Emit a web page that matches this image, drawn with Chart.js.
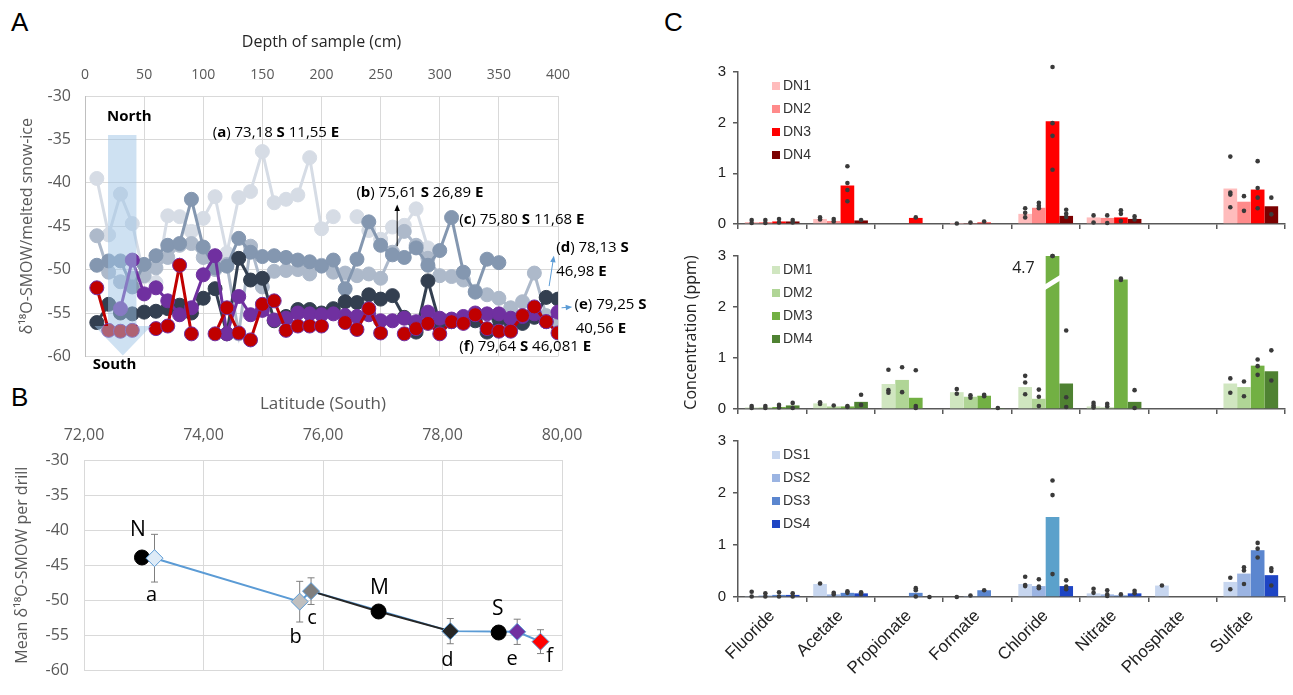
<!DOCTYPE html>
<html>
<head>
<meta charset="utf-8">
<script src="https://cdn.jsdelivr.net/npm/chart.js@4.4.1/dist/chart.umd.min.js"></script>
<style>
  body { margin: 0; background: #fff; width: 1293px; height: 695px; position: relative; overflow: hidden; }
  .box { position: absolute; }
  .letter { position: absolute; font-family: "Liberation Sans", Arial, sans-serif; font-size: 26px; color: #000; line-height: 26px; }
</style>
</head>
<body>
<div class="letter" style="left:11px;top:9px">A</div>
<div class="letter" style="left:11px;top:384px">B</div>
<div class="letter" style="left:664px;top:9px">C</div>

<div class="box" style="left:0;top:0;width:660px;height:380px"><canvas id="chartA"></canvas></div>
<div class="box" style="left:0;top:380px;width:640px;height:315px"><canvas id="chartB"></canvas></div>
<div class="box" style="left:660px;top:55px;width:633px;height:185px"><canvas id="chartDN"></canvas></div>
<div class="box" style="left:660px;top:240px;width:633px;height:185px"><canvas id="chartDM"></canvas></div>
<div class="box" style="left:660px;top:425px;width:633px;height:270px"><canvas id="chartDS"></canvas></div>

<script>
const fontUI = '"Open Sans", sans-serif';
const fontArial = '"Liberation Sans", Arial, sans-serif';

// ---- panel A: d18O profiles per drill, every 10 cm
const depth = [10,20,30,40,50,60,70,80,90,100,110,120,130,140,150,160,170,180,190,200,
               210,220,230,240,250,260,270,280,290,300,310,320,330,340,350,360,370,380,390,400];
const drillA = [-39.5,-46.0,-41.3,-44.7,-50.8,-51.5,-43.8,-43.9,-45.6,-44.1,-41.6,-48.1,-41.7,-41.0,-36.4,-42.3,-41.9,-41.4,-37.1,-45.3,
                -43.9,null,-43.9,-45.5,-46.5,-45.1,-44.9,-43.0,-47.5,null,null,null,null,null,null,null,null,null,null,null];
const drillB = [-46.1,-50.3,-51.4,-51.0,-50.7,-49.8,-48.6,-47.2,-47.0,-48.6,-50.0,-49.4,-57.4,-47.3,-52.0,-50.2,-50.1,-50.0,-50.5,-49.5,
                -50.3,-50.4,-50.7,-50.5,-51.0,-48.0,-45.6,-47.2,-48.7,-50.7,-50.8,-51.2,-52.5,-52.9,-53.3,-54.4,-53.7,-50.4,-55.3,-56.0];
const drillC = [-49.5,-49.0,-49.0,-52.0,-49.4,-48.4,-47.2,-47.0,-41.9,-47.4,-49.8,-49.6,-46.4,-48.0,-48.5,-48.4,-48.6,-48.9,-49.1,-49.6,
                -48.9,-52.2,-48.8,-44.5,-47.2,-48.3,-48.6,-47.5,-49.5,-47.8,-44.0,-50.3,-52.6,-48.8,-49.2,null,null,null,null,null];
const drillD = [-56.1,-54.0,-55.0,-55.1,-54.9,-54.8,-54.5,-54.1,-55.0,-53.3,-52.2,-57.4,-48.7,-51.2,-51.0,-55.9,-55.4,-54.6,-54.6,-55.0,
                -54.5,-53.7,-53.8,-52.9,-53.4,-53.0,-55.5,-57.2,-51.3,-56.2,-56.0,-55.8,-55.9,-57.2,-55.7,-56.1,-56.2,-55.5,-53.2,-53.4];
const drillE = [null,null,-54.5,-48.9,-52.8,-52.1,-53.6,-55.2,-54.4,-50.6,-48.4,-57.4,-53.1,-55.2,-54.7,-55.8,-55.6,-55.0,-55.1,-55.2,
                -55.1,-55.3,-55.4,-55.2,-55.9,-55.9,-55.6,-56.0,-54.9,-55.6,-55.7,-55.4,-55.0,-55.1,-55.1,-55.6,-55.4,-55.1,-56.0,-54.9];
const drillF = [-52.1,-57.0,-57.1,-57.0,null,-56.8,-56.5,-49.5,-57.4,null,-57.4,-54.4,-57.3,-58.1,-54.0,-53.6,-57.0,-56.5,-56.5,-56.5,
                null,-56.1,-56.9,-54.5,-57.3,null,-57.4,-56.8,-56.2,-57.4,-56.0,-56.2,-55.2,-56.8,-57.1,-57.1,-55.3,-54.3,-56.0,-57.3];

// ---- panel B: mean per drill against latitude
const drillNames = ['a','b','c','d','e','f'];
const drillLat = [73.18, 75.61, 75.80, 78.13, 79.25, 79.64];
const drillMean = [-44.0, -50.2, -48.7, -54.4, -54.5, -55.9];
const drillErr = [3.4, 2.9, 1.9, 1.8, 1.8, 1.7];
const zoneNames = ['N','M','S'];
const zoneLat = [72.97, 76.93, 78.94];
const zoneMean = [-43.9, -51.6, -54.6];

// ---- panel C: ion concentrations (ppm), bar = mean, dots = replicates
const ions = ['Fluoride','Acetate','Propionate','Formate','Chloride','Nitrate','Phosphate','Sulfate'];
const dn1 = [0.04,0.10,0,0.005,0.20,0.13,0,0.70];
const dn2 = [0.04,0.06,0,0.01,0.32,0.12,0,0.44];
const dn3 = [0.05,0.76,0.12,0.03,2.03,0.13,0,0.68];
const dn4 = [0.05,0.07,0,0,0.16,0.10,0,0.35];
const dn1Reps = [[0.08,0.02],[0.13,0.09],[],[0.01],[0.31,0.22,0.13],[0.17,0.03],[],[1.33,0.62,0.58,0.33]];
const dn2Reps = [[0.08,0.02],[0.10,0.05],[],[0.03],[0.42,0.36,0.31],[0.17,0.02],[],[0.55,0.26]];
const dn3Reps = [[0.10,0.03],[1.14,0.81,0.67,0.45],[0.13],[0.05],[3.10,1.99,1.74,1.07],[0.27,0.20,0.06],[],[1.24,0.71,0.52,0.31]];
const dn4Reps = [[0.08,0.03],[0.08],[],[],[0.28,0.20,0.14],[0.15,0.09],[],[0.52,0.19]];

const dm1 = [0.03,0.11,0.49,0.33,0.43,0.05,0,0.50];
const dm2 = [0.03,0.05,0.57,0.24,0.20,0.03,0,0.43];
const dm3 = [0.04,0.05,0.22,0.26,4.7,2.54,0,0.85];
const dm4 = [0.07,0.14,0,0.02,0.50,0.14,0,0.74];
const dm1Reps = [[0.06,0.02],[0.13,0.10],[0.77,0.37,0.32],[0.39,0.30],[0.65,0.52,0.29],[0.12,0.07,0.03],[],[0.60,0.32]];
const dm2Reps = [[0.06,0.02],[0.07],[0.82,0.33],[0.27,0.22],[0.38,0.24,0.06],[0.10,0.05],[],[0.54,0.25]];
const dm3Reps = [[0.08,0.03],[0.06,0.04],[0.76,0.06,0.02],[0.28,0.25],[4.8,4.6],[2.56,2.53],[],[0.97,0.84,0.67]];
const dm4Reps = [[0.12,0.02],[0.28,0.08],[],[0.02],[1.54,0.23,0.04],[0.37,0.02],[],[1.15,0.56]];

const ds1 = [0.02,0.25,0,0,0.25,0.07,0.22,0.29];
const ds2 = [0.03,0.05,0,0.02,0.21,0.05,0,0.45];
const ds3 = [0.04,0.08,0.08,0.13,1.54,0.03,0,0.90];
const ds4 = [0.04,0.07,0,0,0.21,0.07,0,0.42];
const ds1Reps = [[0.10,0.01],[0.26],[],[0.0],[0.39,0.23,0.21],[0.16,0.08],[0.22],[0.37,0.15]];
const ds2Reps = [[0.07,0.01],[0.08,0.05],[],[0.03],[0.34,0.20,0.17],[0.13,0.05,0.02],[],[0.57,0.51,0.25]];
const ds3Reps = [[0.09,0.01],[0.11,0.08],[0.17,0.13,0.01],[0.13],[2.24,1.96,0.44],[0.05],[],[1.04,0.93,0.76]];
const ds4Reps = [[0.07,0.01],[0.09,0.06],[0.0],[],[0.32,0.20,0.15],[0.12,0.07],[],[0.55,0.50,0.22]];

// ---------- helpers
function richText(ctx, x, y, parts, size) {
  let cx = x;
  parts.forEach(([t, bold]) => {
    ctx.font = (bold ? 'bold ' : '') + size + 'px ' + fontUI;
    ctx.fillText(t, cx, y);
    cx += ctx.measureText(t).width;
  });
}
function arrow(ctx, x1, y1, x2, y2, color) {
  const a = Math.atan2(y2 - y1, x2 - x1), h = 7;
  ctx.strokeStyle = color; ctx.fillStyle = color; ctx.lineWidth = 1;
  ctx.beginPath(); ctx.moveTo(x1, y1); ctx.lineTo(x2 - Math.cos(a) * h * 0.8, y2 - Math.sin(a) * h * 0.8); ctx.stroke();
  ctx.beginPath();
  ctx.moveTo(x2, y2);
  ctx.lineTo(x2 - h * Math.cos(a - 0.4), y2 - h * Math.sin(a - 0.4));
  ctx.lineTo(x2 - h * Math.cos(a + 0.4), y2 - h * Math.sin(a + 0.4));
  ctx.closePath(); ctx.fill();
}
const S = t => [t, 0], Bd = t => [t, 1];

// ---------- panel A
const panelAExtras = {
  id: 'panelAExtras',
  afterDatasetsDraw(chart) {
    const {ctx, scales: {x, y}} = chart;
    const X = v => x.getPixelForValue(v), Y = v => y.getPixelForValue(v);
    ctx.save();
    // translucent north -> south arrow over the profiles
    ctx.fillStyle = 'rgba(157,195,230,0.5)';
    ctx.beginPath();
    ctx.moveTo(X(19.5), Y(-34.5)); ctx.lineTo(X(43.5), Y(-34.5));
    ctx.lineTo(X(43.5), Y(-56.5)); ctx.lineTo(X(56), Y(-56.5));
    ctx.lineTo(X(32), Y(-59.9)); ctx.lineTo(X(8), Y(-56.5));
    ctx.lineTo(X(19.5), Y(-56.5)); ctx.closePath(); ctx.fill();

    ctx.fillStyle = '#000'; ctx.textBaseline = 'middle';
    ctx.textAlign = 'center';
    ctx.font = 'bold 15px ' + fontUI;
    ctx.fillText('North', X(37.5), Y(-32.4));
    ctx.fillText('South', X(25), Y(-61.0));
    ctx.textAlign = 'left';
    const sz = 15;
    richText(ctx, X(108), Y(-34.2), [S('('), Bd('a'), S(') 73,18 '), Bd('S'), S(' 11,55 '), Bd('E')], sz);
    richText(ctx, X(229.5), Y(-41.2), [S('('), Bd('b'), S(') 75,61 '), Bd('S'), S(' 26,89 '), Bd('E')], sz);
    richText(ctx, X(316.5), Y(-44.2), [S('('), Bd('c'), S(') 75,80 '), Bd('S'), S(' 11,68 '), Bd('E')], sz);
    richText(ctx, X(398.5), Y(-47.5), [S('('), Bd('d'), S(') 78,13 '), Bd('S')], sz);
    richText(ctx, X(398.5), Y(-50.2), [S('46,98 '), Bd('E')], sz);
    richText(ctx, X(414), Y(-54.1), [S('('), Bd('e'), S(') 79,25 '), Bd('S')], sz);
    richText(ctx, X(415), Y(-56.8), [S('40,56 '), Bd('E')], sz);
    richText(ctx, X(316.5), Y(-58.9), [S('('), Bd('f'), S(') 79,64 '), Bd('S'), S(' 46,081 '), Bd('E')], sz);

    arrow(ctx, X(264), Y(-47.3), X(264), Y(-42.5), '#000');
    arrow(ctx, X(392.5), Y(-51.9), X(396.5), Y(-48.4), '#5b9bd5');
    arrow(ctx, X(403), Y(-54.4), X(412), Y(-54.3), '#5b9bd5');
    ctx.restore();
  }
};

const profiles = [
  {label: 'a', data: drillA, color: '#d6dce5', border: '#d6dce5'},
  {label: 'b', data: drillB, color: '#adb9ca', border: '#adb9ca'},
  {label: 'c', data: drillC, color: '#8497b0', border: '#8497b0'},
  {label: 'd', data: drillD, color: '#333f50', border: '#333f50'},
  {label: 'e', data: drillE, color: '#7030a0', border: '#7030a0'},
  {label: 'f', data: drillF, color: '#c00000', border: '#7030a0'}
];

new Chart(document.getElementById('chartA'), {
  type: 'line',
  data: {
    datasets: profiles.map((p, i) => ({
      label: p.label,
      data: depth.map((d, k) => ({x: d, y: p.data[k]})),
      borderColor: p.color,
      backgroundColor: p.color,
      borderWidth: 3,
      pointRadius: 7,
      pointBackgroundColor: p.color,
      pointBorderColor: p.border,
      pointBorderWidth: 1,
      spanGaps: false,
      order: profiles.length - i
    }))
  },
  options: {
    responsive: true, maintainAspectRatio: false, animation: false,
    layout: {padding: {left: 0, top: 0, right: 102, bottom: 17}},
    plugins: {legend: {display: false}, tooltip: {enabled: false}},
    scales: {
      x: {
        type: 'linear', position: 'top', min: 0, max: 400,
        ticks: {stepSize: 50, color: '#595959', font: {family: fontUI, size: 14}, padding: 13},
        grid: {color: '#d9d9d9', drawTicks: false},
        border: {display: false},
        title: {display: true, text: 'Depth of sample (cm)', color: '#262626',
                font: {family: fontUI, size: 16}, padding: {top: 33, bottom: 0}},
        afterFit: s => { s.height = 96; }
      },
      y: {
        min: -60, max: -30,
        ticks: {stepSize: 5, color: '#595959', font: {family: fontUI, size: 16}, padding: 14},
        grid: {color: '#d9d9d9', drawTicks: false},
        border: {color: '#bfbfbf'},
        title: {display: true, text: 'δ¹⁸O-SMOW/melted snow-ice', color: '#595959',
                font: {family: fontUI, size: 16}, padding: {top: 18, bottom: 0}},
        afterFit: s => { s.width = 85; }
      }
    }
  },
  plugins: [panelAExtras]
});

// ---------- panel B
const drillFill = ['#deebf7', '#bfbfbf', '#7f7f7f', '#262626', '#7030a0', '#ff0000'];
const drillPts = drillLat.map((x, i) => ({x, y: drillMean[i]}));
const zonePts = zoneLat.map((x, i) => ({x, y: zoneMean[i]}));

const panelBExtras = {
  id: 'panelBExtras',
  beforeDatasetsDraw(chart) {
    const {ctx, scales: {x, y}} = chart;
    ctx.save();
    ctx.strokeStyle = '#7f7f7f'; ctx.lineWidth = 1;
    drillLat.forEach((lat, i) => {
      const px = x.getPixelForValue(lat);
      const top = y.getPixelForValue(drillMean[i] + drillErr[i]);
      const bot = y.getPixelForValue(drillMean[i] - drillErr[i]);
      ctx.beginPath();
      ctx.moveTo(px, top); ctx.lineTo(px, bot);
      ctx.moveTo(px - 3.5, top); ctx.lineTo(px + 3.5, top);
      ctx.moveTo(px - 3.5, bot); ctx.lineTo(px + 3.5, bot);
      ctx.stroke();
    });
    ctx.restore();
  },
  afterDatasetsDraw(chart) {
    const {ctx, scales: {x, y}} = chart;
    ctx.save();
    ctx.fillStyle = '#000'; ctx.textAlign = 'center'; ctx.textBaseline = 'middle';
    ctx.font = '21px ' + fontUI;
    const zoneOff = [[-4, -27], [1, -23], [-1, -24]];
    zoneNames.forEach((n, i) => {
      ctx.fillText(n, x.getPixelForValue(zoneLat[i]) + zoneOff[i][0], y.getPixelForValue(zoneMean[i]) + zoneOff[i][1]);
    });
    ctx.font = '20px ' + fontUI;
    const drillOff = [[-3, 37], [-4, 36], [1, 27], [-3, 29], [-5, 27], [9, 15]];
    drillNames.forEach((n, i) => {
      ctx.fillText(n, x.getPixelForValue(drillLat[i]) + drillOff[i][0], y.getPixelForValue(drillMean[i]) + drillOff[i][1]);
    });
    ctx.restore();
  }
};

new Chart(document.getElementById('chartB'), {
  type: 'scatter',
  data: {
    datasets: [
      {data: drillPts, showLine: true, borderColor: '#5b9bd5', borderWidth: 2, pointRadius: 0, order: 4},
      {data: [drillPts[2], zonePts[1], drillPts[3]], showLine: true, borderColor: '#262626', borderWidth: 2,
       pointRadius: 0, order: 3},
      {data: zonePts, pointRadius: 7.5, backgroundColor: '#000', borderColor: '#000', order: 2},
      {data: drillPts, pointStyle: 'rectRot', pointRadius: 8.5, backgroundColor: drillFill,
       borderColor: '#5b9bd5', borderWidth: 1, order: 1}
    ]
  },
  options: {
    responsive: true, maintainAspectRatio: false, animation: false,
    layout: {padding: {left: 0, top: 0, right: 78, bottom: 7}},
    plugins: {legend: {display: false}, tooltip: {enabled: false}},
    scales: {
      x: {
        type: 'linear', position: 'top', min: 72, max: 80,
        ticks: {stepSize: 2, color: '#595959', font: {family: fontUI, size: 16}, padding: 15,
                callback: v => v.toFixed(2).replace('.', ',')},
        grid: {color: '#d9d9d9', drawTicks: false},
        border: {display: false},
        title: {display: true, text: 'Latitude (South)', color: '#595959',
                font: {family: fontUI, size: 17}, padding: {top: 14, bottom: 0}},
        afterFit: s => { s.height = 80; }
      },
      y: {
        min: -60, max: -30,
        ticks: {stepSize: 5, color: '#595959', font: {family: fontUI, size: 16}, padding: 15},
        grid: {color: '#d9d9d9', drawTicks: false},
        border: {display: false},
        title: {display: true, text: 'Mean δ¹⁸O-SMOW per drill', color: '#595959',
                font: {family: fontUI, size: 16}, padding: {top: 13, bottom: 0}},
        afterFit: s => { s.width = 84; }
      }
    }
  },
  plugins: [panelBExtras]
});

// ---------- panel C
const replicateDots = {
  id: 'replicateDots',
  afterDatasetsDraw(chart) {
    const {ctx, scales: {y}} = chart;
    ctx.save();
    ctx.fillStyle = '#3a3a3a';
    chart.data.datasets.forEach((ds, i) => {
      const meta = chart.getDatasetMeta(i);
      ds.reps.forEach((vals, j) => {
        const bar = meta.data[j];
        vals.forEach(v => {
          // off-scale replicates sit on top of the broken bar
          const vv = v > y.max + 0.5 ? y.max : v;
          ctx.beginPath();
          ctx.arc(bar.x, y.getPixelForValue(vv), 2.3, 0, Math.PI * 2);
          ctx.fill();
        });
      });
    });
    ctx.restore();
  }
};

const brokenBar = {
  id: 'brokenBar',
  afterDatasetsDraw(chart) {
    const {ctx, scales: {y}} = chart;
    ctx.save();
    chart.data.datasets.forEach((ds, i) => {
      ds.data.forEach((v, j) => {
        if (v <= y.max) return;
        const bar = chart.getDatasetMeta(i).data[j];
        const l = bar.x - bar.width / 2 - 1, r = bar.x + bar.width / 2 + 1;
        ctx.fillStyle = '#fff';
        ctx.beginPath();
        ctx.moveTo(l, y.getPixelForValue(2.33));
        ctx.lineTo(r, y.getPixelForValue(2.52));
        ctx.lineTo(r, y.getPixelForValue(2.63));
        ctx.lineTo(l, y.getPixelForValue(2.44));
        ctx.closePath(); ctx.fill();
        ctx.fillStyle = '#222'; ctx.font = '16px ' + fontUI;
        ctx.textAlign = 'right'; ctx.textBaseline = 'middle';
        ctx.fillText(String(v), l - 10, y.getPixelForValue(2.76));
      });
    });
    ctx.restore();
  }
};

const ionLegend = {
  id: 'ionLegend',
  afterDraw(chart) {
    const {ctx, chartArea} = chart;
    ctx.save();
    ctx.font = '14px ' + fontArial; ctx.textBaseline = 'middle'; ctx.textAlign = 'left';
    chart.data.datasets.forEach((ds, i) => {
      const yy = chartArea.top + 14 + i * 23;
      ctx.fillStyle = ds.legendColor;
      ctx.fillRect(chartArea.left + 34, yy - 4, 8, 8);
      ctx.fillStyle = '#333';
      ctx.fillText(ds.label, chartArea.left + 45, yy);
    });
    ctx.restore();
  }
};

function ionChart(id, names, colors, values, reps, withLabels, yTitle, padTop, xHeight, extra) {
  return new Chart(document.getElementById(id), {
    type: 'bar',
    data: {
      labels: ions,
      datasets: names.map((n, i) => ({
        label: n, data: values[i], reps: reps[i],
        backgroundColor: colors[i],
        legendColor: Array.isArray(colors[i]) ? colors[i][0] : colors[i],
        categoryPercentage: 0.8, barPercentage: 1.0, borderWidth: 0
      }))
    },
    options: {
      responsive: true, maintainAspectRatio: false, animation: false,
      layout: {padding: {left: 0, top: padTop, right: 8, bottom: 0}},
      plugins: {legend: {display: false}, tooltip: {enabled: false}},
      scales: {
        x: {
          grid: {drawOnChartArea: false, color: '#595959', lineWidth: 1.5, tickLength: 5, offset: true},
          border: {color: '#595959', width: 1.5},
          ticks: {display: withLabels, color: '#222', font: {family: fontArial, size: 17},
                  maxRotation: 45, minRotation: 45, padding: 4},
          afterFit: s => { s.height = xHeight; }
        },
        y: {
          min: 0, max: 3,
          ticks: {stepSize: 1, color: '#222', font: {family: fontArial, size: 15}, padding: 7},
          grid: {drawOnChartArea: false, color: '#595959', lineWidth: 1.5, tickLength: 5},
          border: {color: '#595959', width: 1.5},
          title: {display: !!yTitle, text: yTitle || '', color: '#222',
                  font: {family: fontUI, size: 16}, padding: {top: 22, bottom: 0}},
          afterFit: s => { s.width = 78; }
        }
      }
    },
    plugins: extra.concat([replicateDots, ionLegend])
  });
}

ionChart('chartDN', ['DN1', 'DN2', 'DN3', 'DN4'], ['#ffbcbc', '#ff8a8a', '#ff0000', '#7b0000'],
         [dn1, dn2, dn3, dn4], [dn1Reps, dn2Reps, dn3Reps, dn4Reps], false, null, 17, 12, []);
ionChart('chartDM', ['DM1', 'DM2', 'DM3', 'DM4'], ['#d0e6c0', '#b0d596', '#72b043', '#4f8232'],
         [dm1, dm2, dm3, dm4], [dm1Reps, dm2Reps, dm3Reps, dm4Reps], false, 'Concentration (ppm)', 16, 12, [brokenBar]);
ionChart('chartDS', ['DS1', 'DS2', 'DS3', 'DS4'],
         ['#c7d6ef', '#9bb4e2', ions.map(n => n === 'Chloride' ? '#5ba1cb' : '#5b86cf'), '#1e45c4'],
         [ds1, ds2, ds3, ds4], [ds1Reps, ds2Reps, ds3Reps, ds4Reps], true, null, 11, 98, []);
</script>
</body>
</html>
